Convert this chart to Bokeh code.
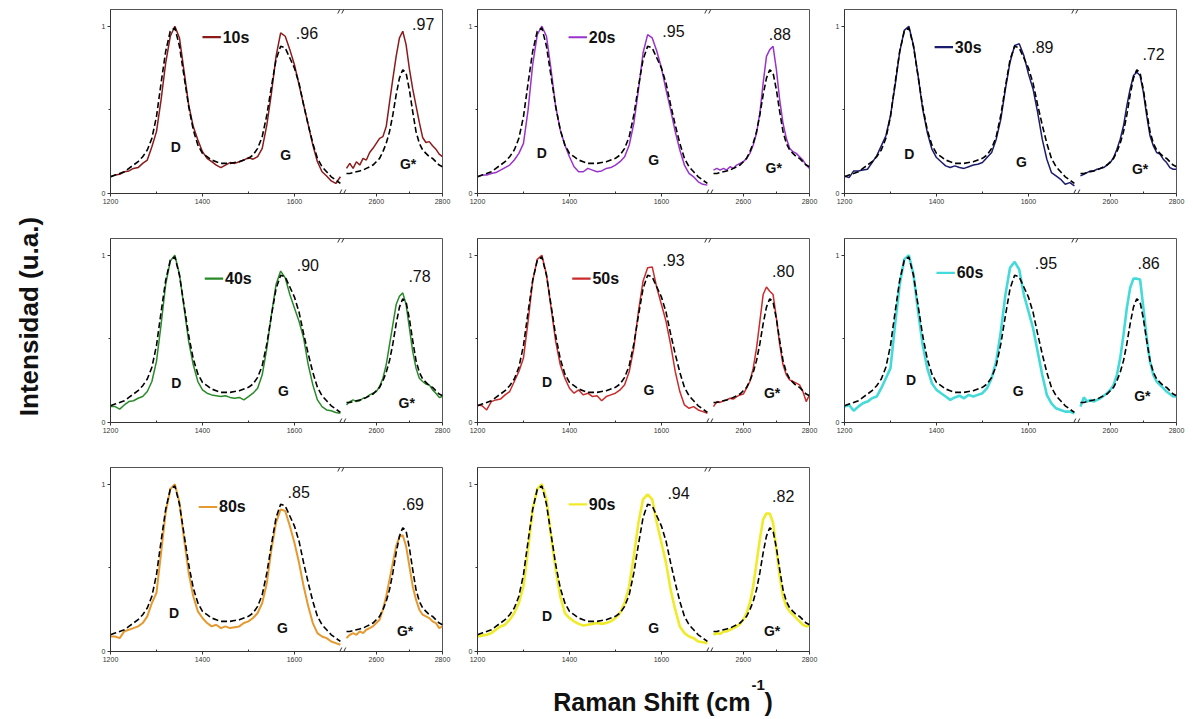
import math
from bokeh.plotting import figure
from bokeh.layouts import row, column
from bokeh.models import FixedTicker, CustomJSTickFormatter, Range1d, Spacer
from bokeh.core.properties import value
from bokeh.embed import file_html
from bokeh.resources import INLINE

# ---------------- data ----------------
X_LOW = list(range(1200, 1701, 10))    # 51 points, cm-1
X_HIGH = list(range(2510, 2801, 10))   # 30 points, cm-1

X_TICKS = [1200, 1400, 1600, 2600, 2800]
X_MINOR = [1300, 1500, 2700]

TIMES = ["10s", "20s", "30s", "40s", "50s", "60s", "80s", "90s"]
G_LABELS = [".96", ".95", ".89", ".90", ".93", ".95", ".85", ".94"]
GS_LABELS = [".97", ".88", ".72", ".78", ".80", ".86", ".69", ".82"]
BANDS = ["D", "G", "G*"]

REF_LOW = [0.10, 0.11, 0.12, 0.13, 0.15, 0.17, 0.19, 0.22, 0.26, 0.33,
           0.46, 0.66, 0.85, 0.97, 0.99, 0.88, 0.70, 0.52, 0.38, 0.29,
           0.24, 0.22, 0.20, 0.19, 0.18, 0.18, 0.18, 0.185, 0.19, 0.20,
           0.21, 0.23, 0.27, 0.34, 0.47, 0.64, 0.80, 0.88, 0.87, 0.81,
           0.75, 0.66, 0.53, 0.41, 0.30, 0.21, 0.16, 0.13, 0.10, 0.08, 0.06]
REF_HIGH = [0.12, 0.12, 0.125, 0.13, 0.135, 0.14, 0.15, 0.16, 0.17, 0.19,
            0.21, 0.25, 0.30, 0.37, 0.47, 0.59, 0.69, 0.74, 0.72, 0.62,
            0.49, 0.37, 0.30, 0.26, 0.24, 0.22, 0.21, 0.19, 0.17, 0.16]

S10_LOW = [0.10, 0.11, 0.115, 0.13, 0.135, 0.15, 0.155, 0.18, 0.20, 0.28,
           0.37, 0.56, 0.78, 0.94, 1.00, 0.93, 0.73, 0.53, 0.40, 0.32,
           0.25, 0.21, 0.19, 0.17, 0.155, 0.17, 0.185, 0.18, 0.19, 0.20,
           0.215, 0.205, 0.22, 0.27, 0.41, 0.60, 0.82, 0.96, 0.94, 0.86,
           0.77, 0.65, 0.53, 0.41, 0.29, 0.19, 0.13, 0.105, 0.075, 0.06, 0.10]
S10_HIGH = [0.15, 0.18, 0.15, 0.19, 0.17, 0.21, 0.20, 0.245, 0.27, 0.30,
            0.33, 0.34, 0.40, 0.545, 0.685, 0.82, 0.93, 0.97, 0.89, 0.745,
            0.625, 0.525, 0.425, 0.335, 0.305, 0.31, 0.285, 0.265, 0.235, 0.22]

S20_LOW = [0.10, 0.11, 0.11, 0.12, 0.125, 0.14, 0.155, 0.17, 0.20, 0.24,
           0.30, 0.50, 0.77, 0.95, 1.00, 0.94, 0.74, 0.52, 0.38, 0.29,
           0.22, 0.16, 0.13, 0.13, 0.15, 0.14, 0.13, 0.135, 0.15, 0.155,
           0.17, 0.19, 0.22, 0.29, 0.42, 0.62, 0.84, 0.95, 0.93, 0.85,
           0.75, 0.62, 0.50, 0.37, 0.26, 0.17, 0.12, 0.10, 0.07, 0.055, 0.05]
S20_HIGH = [0.14, 0.15, 0.14, 0.15, 0.14, 0.16, 0.15, 0.17, 0.18, 0.19,
            0.21, 0.24, 0.29, 0.36, 0.48, 0.66, 0.82, 0.86, 0.88, 0.74,
            0.56, 0.42, 0.33, 0.27, 0.25, 0.24, 0.22, 0.20, 0.17, 0.15]

S30_LOW = [0.105, 0.095, 0.135, 0.135, 0.14, 0.145, 0.185, 0.225, 0.285, 0.345,
           0.465, 0.645, 0.845, 0.975, 1.00, 0.885, 0.705, 0.505, 0.365, 0.265,
           0.215, 0.19, 0.165, 0.155, 0.165, 0.155, 0.15, 0.16, 0.17, 0.175,
           0.185, 0.215, 0.245, 0.325, 0.445, 0.625, 0.785, 0.885, 0.895, 0.825,
           0.715, 0.625, 0.485, 0.325, 0.205, 0.125, 0.105, 0.085, 0.055, 0.065, 0.045]
S30_HIGH = [0.105, 0.115, 0.125, 0.135, 0.135, 0.145, 0.15, 0.155, 0.17, 0.185,
            0.215, 0.265, 0.325, 0.405, 0.525, 0.625, 0.705, 0.725, 0.705, 0.605,
            0.465, 0.345, 0.285, 0.245, 0.235, 0.205, 0.185, 0.155, 0.145, 0.145]

S40_LOW = [0.095, 0.095, 0.08, 0.105, 0.125, 0.13, 0.145, 0.155, 0.185, 0.245,
           0.365, 0.585, 0.825, 0.965, 1.00, 0.885, 0.685, 0.485, 0.345, 0.245,
           0.195, 0.175, 0.165, 0.16, 0.155, 0.16, 0.15, 0.145, 0.15, 0.135,
           0.155, 0.175, 0.205, 0.285, 0.445, 0.645, 0.825, 0.905, 0.865, 0.765,
           0.685, 0.605, 0.505, 0.345, 0.225, 0.135, 0.095, 0.075, 0.07, 0.06, 0.055]
S40_HIGH = [0.105, 0.125, 0.135, 0.125, 0.13, 0.145, 0.15, 0.165, 0.175, 0.185,
            0.215, 0.265, 0.345, 0.465, 0.585, 0.705, 0.755, 0.775, 0.705, 0.565,
            0.425, 0.325, 0.265, 0.245, 0.23, 0.225, 0.195, 0.175, 0.15, 0.155]

S50_LOW = [0.105, 0.10, 0.075, 0.125, 0.135, 0.14, 0.165, 0.185, 0.245, 0.305,
           0.385, 0.605, 0.845, 0.975, 1.00, 0.885, 0.685, 0.485, 0.345, 0.265,
           0.205, 0.175, 0.195, 0.165, 0.175, 0.155, 0.16, 0.13, 0.155, 0.165,
           0.175, 0.195, 0.225, 0.305, 0.445, 0.665, 0.845, 0.925, 0.93, 0.805,
           0.705, 0.605, 0.465, 0.305, 0.185, 0.105, 0.085, 0.095, 0.075, 0.065, 0.055]
S50_HIGH = [0.095, 0.125, 0.12, 0.13, 0.135, 0.145, 0.14, 0.155, 0.165, 0.17,
            0.205, 0.245, 0.325, 0.445, 0.605, 0.765, 0.81, 0.785, 0.765, 0.625,
            0.465, 0.345, 0.285, 0.255, 0.245, 0.235, 0.225, 0.185, 0.125, 0.165]

S60_LOW = [0.095, 0.105, 0.07, 0.095, 0.115, 0.125, 0.145, 0.155, 0.205, 0.265,
           0.325, 0.585, 0.825, 0.975, 1.00, 0.885, 0.665, 0.465, 0.325, 0.235,
           0.195, 0.175, 0.155, 0.135, 0.15, 0.16, 0.145, 0.165, 0.155, 0.165,
           0.175, 0.205, 0.265, 0.365, 0.545, 0.765, 0.925, 0.96, 0.915, 0.765,
           0.665, 0.565, 0.425, 0.285, 0.165, 0.115, 0.085, 0.075, 0.065, 0.065, 0.055]
S60_HIGH = [0.095, 0.15, 0.125, 0.135, 0.125, 0.135, 0.145, 0.16, 0.175, 0.195,
            0.225, 0.285, 0.385, 0.525, 0.685, 0.805, 0.86, 0.86, 0.855, 0.685,
            0.505, 0.365, 0.285, 0.245, 0.225, 0.205, 0.185, 0.17, 0.155, 0.155]

S80_LOW = [0.09, 0.09, 0.08, 0.12, 0.13, 0.14, 0.15, 0.17, 0.21, 0.29,
           0.35, 0.59, 0.83, 0.97, 1.00, 0.89, 0.67, 0.47, 0.33, 0.24,
           0.20, 0.17, 0.15, 0.16, 0.14, 0.15, 0.14, 0.145, 0.15, 0.17,
           0.18, 0.20, 0.23, 0.29, 0.41, 0.61, 0.77, 0.85, 0.84, 0.75,
           0.65, 0.53, 0.39, 0.27, 0.17, 0.11, 0.09, 0.08, 0.06, 0.05, 0.04]
S80_HIGH = [0.08, 0.10, 0.11, 0.10, 0.12, 0.11, 0.13, 0.14, 0.15, 0.17,
            0.19, 0.25, 0.33, 0.43, 0.53, 0.63, 0.685, 0.695, 0.63, 0.51,
            0.39, 0.31, 0.25, 0.22, 0.21, 0.20, 0.18, 0.17, 0.14, 0.15]

S90_LOW = [0.09, 0.095, 0.10, 0.11, 0.13, 0.15, 0.16, 0.19, 0.23, 0.29,
           0.39, 0.61, 0.85, 0.97, 1.00, 0.91, 0.69, 0.49, 0.33, 0.23,
           0.20, 0.18, 0.165, 0.155, 0.16, 0.165, 0.17, 0.165, 0.17, 0.18,
           0.20, 0.23, 0.29, 0.39, 0.57, 0.77, 0.91, 0.94, 0.91, 0.77,
           0.65, 0.53, 0.37, 0.25, 0.15, 0.11, 0.09, 0.08, 0.06, 0.055, 0.05]
S90_HIGH = [0.10, 0.11, 0.105, 0.12, 0.12, 0.13, 0.14, 0.15, 0.165, 0.19,
            0.23, 0.29, 0.39, 0.53, 0.67, 0.79, 0.825, 0.825, 0.77, 0.61,
            0.45, 0.33, 0.27, 0.24, 0.22, 0.20, 0.18, 0.16, 0.15, 0.155]

SERIES_LOW = [S10_LOW, S20_LOW, S30_LOW, S40_LOW, S50_LOW, S60_LOW, S80_LOW, S90_LOW]
SERIES_HIGH = [S10_HIGH, S20_HIGH, S30_HIGH, S40_HIGH, S50_HIGH, S60_HIGH, S80_HIGH, S90_HIGH]

# ---------------- styles / layout ----------------
COLORS = ["#8B1A1A", "#9933CC", "#1C1C6E", "#2A8A2A", "#CC2B2B", "#45DADA", "#E5992E", "#F0EB2A"]
WIDTHS = [1.5, 1.5, 1.5, 1.5, 1.5, 2.6, 2.0, 2.6]

# annotation anchors per panel (cm-1 / intensity): legend, G value, G* value, D, G, G* band labels
ANN = [
    dict(leg=(1400, 0.935), g=(1603, 0.962), gs=(2708, 1.016), d=(1342, 0.277), gb=(1581, 0.228), gsb=(2696, 0.174)),
    dict(leg=(1398, 0.934), g=(1602, 0.974), gs=(2677, 0.954), d=(1340, 0.240), gb=(1583, 0.200), gsb=(2692, 0.150)),
    dict(leg=(1396, 0.875), g=(1606, 0.876), gs=(2697, 0.836), d=(1341, 0.238), gb=(1585, 0.187), gsb=(2690, 0.147)),
    dict(leg=(1405, 0.860), g=(1605, 0.944), gs=(2697, 0.874), d=(1343, 0.235), gb=(1576, 0.186), gsb=(2692, 0.116)),
    dict(leg=(1406, 0.860), g=(1602, 0.974), gs=(2687, 0.908), d=(1351, 0.245), gb=(1573, 0.195), gsb=(2687, 0.175)),
    dict(leg=(1400, 0.894), g=(1614, 0.954), gs=(2682, 0.954), d=(1345, 0.255), gb=(1578, 0.186), gsb=(2697, 0.156)),
    dict(leg=(1392, 0.864), g=(1585, 0.954), gs=(2677, 0.880), d=(1338, 0.230), gb=(1574, 0.140), gsb=(2687, 0.120)),
    dict(leg=(1398, 0.880), g=(1613, 0.950), gs=(2687, 0.930), d=(1351, 0.210), gb=(1583, 0.140), gsb=(2687, 0.120)),
]

FONT = "Liberation Sans"
BREAK_LO, BREAK_HI, HIGH_SCALE = 1700, 2500, 0.72
U_GAP = 6
PAGE_PAD = 8


def to_u(x):
    """Map Raman shift onto the broken axis coordinate."""
    if x <= BREAK_LO:
        return float(x)
    return BREAK_LO + U_GAP + (x - BREAK_HI) * HIGH_SCALE


U_MIN = to_u(1200)
U_MAX = to_u(2800)
U_BREAK = BREAK_LO + U_GAP / 2
Y_MAX = 1.10

FIG_W = 367
ROW_H = [229, 229, 202]
FRAME_H = 184
BORDER_L, BORDER_R, BORDER_T = 22, 13, 1

formatter = CustomJSTickFormatter(code="""
    var v = tick > %f ? %d + (tick - %d) / %f : tick;
    return Math.round(v).toString();
""" % (U_BREAK, BREAK_HI, BREAK_LO + U_GAP, HIGH_SCALE))


def make_panel(i, h):
    p = figure(width=FIG_W, height=h, x_range=Range1d(U_MIN, U_MAX), y_range=Range1d(0, Y_MAX),
               output_backend="svg", toolbar_location=None,
               min_border_left=BORDER_L, min_border_right=BORDER_R,
               min_border_top=BORDER_T, min_border_bottom=h - BORDER_T - FRAME_H)
    p.grid.visible = False
    p.outline_line_color = "#555555"
    p.outline_line_width = 1
    p.background_fill_color = "white"
    p.border_fill_color = "white"

    xa = p.xaxis[0]
    xa.ticker = FixedTicker(ticks=[to_u(t) for t in X_TICKS], minor_ticks=[to_u(t) for t in X_MINOR])
    xa.formatter = formatter
    ya = p.yaxis[0]
    ya.ticker = FixedTicker(ticks=[0, 1], minor_ticks=[0.5])
    for ax in (xa, ya):
        ax.axis_line_color = "#333333"
        ax.major_tick_line_color = "#333333"
        ax.minor_tick_line_color = "#333333"
        ax.major_tick_out = 3
        ax.major_tick_in = 0
        ax.major_label_text_font = FONT
        ax.major_label_text_font_size = "7px"
        ax.major_label_text_color = "#333333"
        ax.major_label_standoff = 2
    xa.minor_tick_in = 2
    xa.minor_tick_out = 0
    ya.minor_tick_in = 0
    ya.minor_tick_out = 2

    ul = [to_u(x) for x in X_LOW]
    uh = [to_u(x) for x in X_HIGH]
    col = COLORS[i]
    lw = WIDTHS[i]
    p.line(ul, SERIES_LOW[i], line_color=col, line_width=lw)
    p.line(uh, SERIES_HIGH[i], line_color=col, line_width=lw)
    p.line(ul, REF_LOW, line_color="black", line_width=1.6, line_dash="6 3")
    p.line(uh, REF_HIGH, line_color="black", line_width=1.6, line_dash="6 3")

    # axis break markers
    upx = (U_MAX - U_MIN) / 332.0
    ypx = Y_MAX / FRAME_H
    x0s, y0s, x1s, y1s = [], [], [], []
    for yc in (0.0, Y_MAX):
        for off in (-2.0, 2.0):
            xc = U_BREAK + off * upx
            x0s.append(xc - 2 * upx); y0s.append(yc - 4 * ypx)
            x1s.append(xc + 2 * upx); y1s.append(yc + 4 * ypx)
    p.segment(x0s, y0s, x1s, y1s, line_color="#333333", line_width=1)

    a = ANN[i]
    lx, ly = a["leg"]
    p.segment([to_u(lx)], [ly], [to_u(lx) + 40], [ly], line_color=col, line_width=2.2)
    p.text([to_u(lx) + 44], [ly], text=[TIMES[i]], text_font=value(FONT), text_font_style="bold",
           text_font_size="16px", text_baseline="middle", text_align="left", text_color="#111111")
    p.text([to_u(a["g"][0]), to_u(a["gs"][0])], [a["g"][1], a["gs"][1]],
           text=[G_LABELS[i], GS_LABELS[i]], text_font=value(FONT), text_font_size="16px",
           text_baseline="middle", text_align="left", text_color="#111111")
    p.text([to_u(a["d"][0]), to_u(a["gb"][0]), to_u(a["gsb"][0])],
           [a["d"][1], a["gb"][1], a["gsb"][1]], text=BANDS,
           text_font=value(FONT), text_font_style="bold", text_font_size="14px",
           text_baseline="middle", text_align="center", text_color="#111111")
    return p


panels = []
for i in range(8):
    h = ROW_H[i // 3]
    panels.append(make_panel(i, h))

grid = column(row(panels[0], panels[1], panels[2]),
              row(panels[3], panels[4], panels[5]),
              row(panels[6], panels[7]))

YL_W = 80 + PAGE_PAD
YL_H = sum(ROW_H)
ylab = figure(width=YL_W, height=YL_H, x_range=Range1d(0, YL_W), y_range=Range1d(0, YL_H),
              output_backend="svg", toolbar_location=None, x_axis_type=None, y_axis_type=None,
              min_border=0)
ylab.grid.visible = False
ylab.outline_line_color = None
ylab.text([20 + PAGE_PAD], [352], text=["Intensidad (u.a.)"], angle=math.pi / 2, text_font=value(FONT),
          text_font_style="bold", text_font_size="26px", text_align="center",
          text_baseline="middle", text_color="#111111")

XL_W = YL_W + 3 * FIG_W
XL_H = 50
xlab = figure(width=XL_W, height=XL_H, x_range=Range1d(0, XL_W), y_range=Range1d(0, XL_H),
              output_backend="svg", toolbar_location=None, x_axis_type=None, y_axis_type=None,
              min_border=0)
xlab.grid.visible = False
xlab.outline_line_color = None
xlab.text([750], [17], text=["Raman Shift (cm"], text_font=value(FONT), text_font_style="bold",
          text_font_size="25px", text_align="right", text_baseline="alphabetic", text_color="#111111")
xlab.text([751], [34], text=["-1"], text_font=value(FONT), text_font_style="bold",
          text_font_size="15px", text_align="left", text_baseline="alphabetic", text_color="#111111")
xlab.text([764], [17], text=[")"], text_font=value(FONT), text_font_style="bold",
          text_font_size="25px", text_align="left", text_baseline="alphabetic", text_color="#111111")

layout = column(Spacer(width=XL_W, height=PAGE_PAD), row(ylab, grid), xlab)

open("out.html", "w").write(file_html(layout, INLINE))
